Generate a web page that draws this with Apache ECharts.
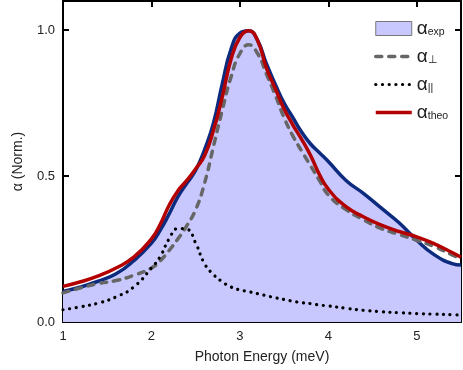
<!DOCTYPE html>
<html>
<head>
<meta charset="utf-8">
<script src="https://cdn.jsdelivr.net/npm/echarts@6/dist/echarts.min.js"></script>
<style>
  html, body { margin: 0; padding: 0; background: #fff; }
  #chart { width: 463px; height: 370px; }
</style>
</head>
<body>
<div id="chart"></div>
<script>
// photon energy grid (meV)
const energy = [1.0, 1.2, 1.4, 1.6, 1.8, 2.0, 2.1, 2.2, 2.3, 2.4, 2.5, 2.6, 2.7, 2.8, 2.9,
  3.0, 3.1, 3.2, 3.3, 3.4, 3.5, 3.6, 3.7, 3.8, 3.9, 4.0, 4.2, 4.4, 4.6, 4.8, 5.0, 5.2, 5.4, 5.5];

// measured absorption (filled)
const alphaExp = [0.105, 0.12, 0.14, 0.165, 0.21, 0.27, 0.315, 0.37, 0.43, 0.475, 0.52, 0.59, 0.68, 0.815, 0.935,
  0.99, 0.998, 0.965, 0.885, 0.815, 0.75, 0.70, 0.65, 0.61, 0.58, 0.55, 0.485, 0.44, 0.39, 0.34, 0.28, 0.23, 0.20, 0.195];

// perpendicular component (dashed)
const alphaPerp = [0.10, 0.117, 0.132, 0.142, 0.16, 0.185, 0.21, 0.245, 0.285, 0.33, 0.385, 0.475, 0.60, 0.725, 0.84,
  0.92, 0.95, 0.92, 0.85, 0.778, 0.70, 0.637, 0.585, 0.535, 0.485, 0.435, 0.385, 0.35, 0.32, 0.30, 0.28, 0.258, 0.23, 0.215];

// parallel component (dotted)
const alphaPara = [0.042, 0.052, 0.065, 0.086, 0.12, 0.185, 0.225, 0.285, 0.32, 0.318, 0.27, 0.20, 0.163, 0.138, 0.12,
  0.11, 0.104, 0.097, 0.09, 0.083, 0.077, 0.071, 0.066, 0.063, 0.058, 0.055, 0.047, 0.04, 0.035, 0.032, 0.029, 0.027, 0.025, 0.024];

// theory (red)
const alphaTheo = [0.122, 0.138, 0.158, 0.185, 0.222, 0.285, 0.335, 0.40, 0.45, 0.485, 0.525, 0.57, 0.655, 0.77, 0.90,
  0.975, 0.998, 0.965, 0.87, 0.80, 0.73, 0.675, 0.625, 0.57, 0.505, 0.455, 0.395, 0.36, 0.332, 0.31, 0.292, 0.268, 0.238, 0.222];

const xTicks = [1, 2, 3, 4, 5];
const yTickLabels = ["0.0", "0.5", "1.0"];
const subs = { exp: "exp", perp: "⊥", para: "||", theo: "theo" };

function pairs(ys) {
  return energy.map((x, i) => [x, ys[i]]);
}

const chart = echarts.init(document.getElementById("chart"));
const font = "Liberation Sans, Arial, sans-serif";

const tickStyle = { inside: true, length: 6, lineStyle: { color: "#000", width: 2 } };
const axisLine = { show: true, onZero: false, lineStyle: { color: "#000", width: 2 } };

chart.setOption({
  animation: false,
  backgroundColor: "#fff",
  grid: { left: 63, right: 2, top: 1, bottom: 48 },
  xAxis: [
    {
      type: "value", min: 1, max: 5.5, interval: 1, position: "bottom",
      axisLine: axisLine, axisTick: tickStyle, splitLine: { show: false },
      axisLabel: {
        color: "#222", fontSize: 13, fontFamily: font, margin: 8, showMaxLabel: false,
        formatter: v => (xTicks.indexOf(v) >= 0 ? String(v) : "")
      },
      name: "Photon Energy (meV)", nameLocation: "middle", nameGap: 28,
      nameTextStyle: { color: "#222", fontSize: 14, fontFamily: font }
    },
    {
      type: "value", min: 1, max: 5.5, interval: 1, position: "top",
      axisLine: axisLine, axisTick: tickStyle, splitLine: { show: false },
      axisLabel: { show: false }
    }
  ],
  yAxis: [
    {
      type: "value", min: 0, max: 1.1, interval: 0.5, position: "left",
      axisLine: axisLine, axisTick: tickStyle, splitLine: { show: false },
      axisLabel: {
        color: "#222", fontSize: 13, fontFamily: font, margin: 8, showMaxLabel: false,
        formatter: v => yTickLabels[Math.round(v * 2)] || ""
      },
      name: "α (Norm.)", nameLocation: "middle", nameGap: 38,
      nameTextStyle: { color: "#222", fontSize: 14, fontFamily: font }
    },
    {
      type: "value", min: 0, max: 1.1, interval: 0.5, position: "right",
      axisLine: axisLine, axisTick: tickStyle, splitLine: { show: false },
      axisLabel: { show: false }
    }
  ],
  legend: {
    orient: "vertical", left: 374, top: 19,
    itemWidth: 36, itemHeight: 14, itemGap: 9, padding: 0,
    formatter: name => "{a|α}{s|" + subs[name] + "}",
    textStyle: {
      color: "#222", fontFamily: font,
      rich: {
        a: { fontSize: 19, fontFamily: font, lineHeight: 16 },
        s: { fontSize: 10.5, fontFamily: font, lineHeight: 14, padding: [8, 0, 0, 0] }
      }
    },
    data: [
      { name: "exp", icon: "rect", itemStyle: { color: "#c8c8ff", borderColor: "#777", borderWidth: 1 } },
      { name: "perp", itemStyle: { opacity: 0 }, lineStyle: { width: 3.5 } },
      { name: "para", itemStyle: { opacity: 0 }, lineStyle: { width: 3.2 } },
      { name: "theo", itemStyle: { opacity: 0 }, lineStyle: { width: 3.5 } }
    ]
  },
  series: [
    {
      name: "exp", type: "line", data: pairs(alphaExp), smooth: 0.5,
      symbol: "none", z: 1,
      lineStyle: { color: "#0c2a7e", width: 3.5 },
      itemStyle: { color: "#c8c8ff" },
      areaStyle: { color: "#c8c8ff", opacity: 1 }
    },
    {
      name: "perp", type: "line", data: pairs(alphaPerp), smooth: 0.5,
      symbol: "none", z: 3,
      lineStyle: { color: "#666", width: 3.5, type: [6, 7], cap: "round" },
      itemStyle: { color: "#666" }
    },
    {
      name: "para", type: "line", data: pairs(alphaPara), smooth: 0.5,
      symbol: "none", z: 3,
      lineStyle: { color: "#000", width: 3.2, type: [0.1, 6.6], cap: "round" },
      itemStyle: { color: "#000" }
    },
    {
      name: "theo", type: "line", data: pairs(alphaTheo), smooth: 0.5,
      symbol: "none", z: 4,
      lineStyle: { color: "#b30000", width: 3.5 },
      itemStyle: { color: "#b30000" }
    }
  ]
});
</script>
</body>
</html>
